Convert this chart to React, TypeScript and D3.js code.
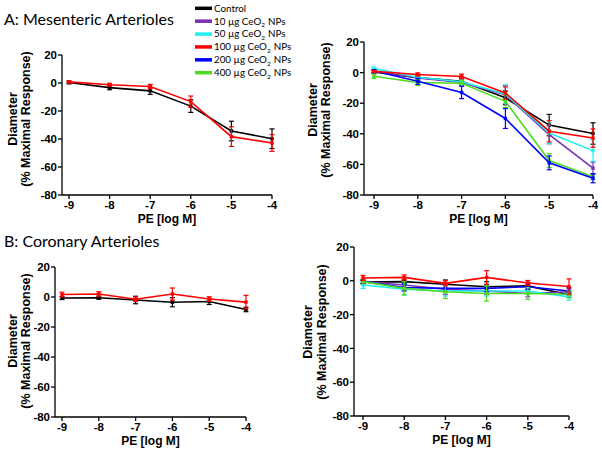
import React from 'react';
import * as d3 from 'd3';

// PE concentration, log M
const doses = [-9, -8, -7, -6, -5, -4];
const yTicks = [20, 0, -20, -40, -60, -80];

// A: mesenteric arterioles, mean diameter (% maximal response) and SEM
const mesControl = [0.4, -3.3, -5.6, -16.5, -34.3, -39.8];
const mesControlErr = [1, 1.5, 2.5, 4.5, 7, 7];
const mes10 = [1, -3.5, -6.5, -14.5, -40.5, -62.5];
const mes10Err = [1, 1.5, 2, 6, 6, 4];
const mes50 = [2.6, -3, -6, -14, -39.5, -51];
const mes50Err = [1, 1.5, 2, 6, 7, 7];
const mes100 = [0.8, -1.2, -2.5, -13.3, -38.3, -42.8];
const mes100Err = [0.5, 1, 1.5, 4, 7, 6];
const mes200 = [1, -5.7, -13, -30, -59, -69];
const mes200Err = [1, 2, 4, 6.5, 4.5, 3];
const mes400 = [-2.4, -6.5, -7, -18.8, -57.5, -68];
const mes400Err = [1.5, 2, 2, 4, 4.5, 2];

// B: coronary arterioles
const corControl = [-0.7, -0.5, -2, -3.5, -3, -8.3];
const corControlErr = [1, 1, 2.5, 3, 2, 1.5];
const cor10 = [-0.5, -2.5, -5, -6, -7.5, -6.5];
const cor10Err = [1, 2, 3, 2, 2, 2];
const cor50 = [-2.5, -5, -6, -6, -6, -9.5];
const cor50Err = [2, 3, 3, 3, 2, 2];
const cor100 = [1.7, 2, -1.5, 2, -1.3, -3.4];
const cor100Err = [1.5, 1.5, 1.5, 4, 1.5, 4.5];
const cor200 = [-0.5, -4, -4.5, -4.5, -3.5, -6];
const cor200Err = [1, 2, 2, 2, 1.5, 2];
const cor400 = [-0.5, -4.5, -6.5, -7.5, -7.5, -8];
const cor400Err = [1.5, 4, 4, 4.5, 3.5, 2];

const legendDoses = ['10', '50', '100', '200', '400'];
const colors = {
  control: '#000000',
  d10: '#7a2fb5',
  d50: '#22f0f0',
  d100: '#ff0000',
  d200: '#0000ff',
  d400: '#4cdc22',
};

type Series = { color: string; values: number[]; err: number[] };

type PanelProps = {
  axisX: number;
  x0: number;
  x1: number;
  yTop: number;
  yBot: number;
  label1X: number;
  label2X: number;
  labelY: number;
  series: Series[];
};

const tickFont = '"Liberation Sans", Arial, sans-serif';

function Panel({ axisX, x0, x1, yTop, yBot, label1X, label2X, labelY, series }: PanelProps) {
  const x = d3.scaleLinear().domain([-9, -4]).range([x0, x1]);
  const y = d3.scaleLinear().domain([20, -80]).range([yTop, yBot]);
  const line = d3
    .line<number>()
    .x((_, i) => x(doses[i]))
    .y((d) => y(d));
  const cap = 2.5;
  return (
    <g>
      {series.map((s, si) => (
        <g key={si} stroke={s.color} fill={s.color}>
          <path d={line(s.values) || ''} fill="none" strokeWidth={1.6} />
          {s.values.map((v, i) => {
            const cx = x(doses[i]);
            const hi = y(v + s.err[i]);
            const lo = y(v - s.err[i]);
            return (
              <g key={i} strokeWidth={1.2}>
                <line x1={cx} x2={cx} y1={hi} y2={lo} />
                <line x1={cx - cap} x2={cx + cap} y1={hi} y2={hi} />
                <line x1={cx - cap} x2={cx + cap} y1={lo} y2={lo} />
                <rect x={cx - 1.7} y={y(v) - 1.7} width={3.4} height={3.4} stroke="none" />
              </g>
            );
          })}
        </g>
      ))}
      <g stroke="#000" strokeWidth={1.3} fill="none">
        <line x1={axisX} x2={axisX} y1={yTop} y2={yBot} />
        <line x1={axisX} x2={x1} y1={yBot} y2={yBot} />
        {yTicks.map((t) => (
          <line key={t} x1={axisX - 4} x2={axisX} y1={y(t)} y2={y(t)} />
        ))}
        {doses.map((d) => (
          <line key={d} x1={x(d)} x2={x(d)} y1={yBot} y2={yBot + 4} />
        ))}
      </g>
      <g fontFamily={tickFont} fontWeight="bold" fontSize={11.5} fill="#000">
        {yTicks.map((t) => (
          <text key={t} x={axisX - 5} y={y(t)} dy="0.36em" textAnchor="end">
            {t}
          </text>
        ))}
        {doses.map((d) => (
          <text key={d} x={x(d)} y={yBot + 14} textAnchor="middle">
            {d}
          </text>
        ))}
        <text x={(axisX + x1) / 2} y={yBot + 28} textAnchor="middle" fontSize={12}>
          PE [log M]
        </text>
        <text transform={`translate(${label1X},${labelY}) rotate(-90)`} textAnchor="middle" fontSize={12.5}>
          Diameter
        </text>
        <text transform={`translate(${label2X},${labelY}) rotate(-90)`} textAnchor="middle" fontSize={12.5}>
          (% Maximal Response)
        </text>
      </g>
    </g>
  );
}

export default function App() {
  const mesLeft: Series[] = [
    { color: colors.control, values: mesControl, err: mesControlErr },
    { color: colors.d100, values: mes100, err: mes100Err },
  ];
  const mesRight: Series[] = [
    { color: colors.control, values: mesControl, err: mesControlErr },
    { color: colors.d10, values: mes10, err: mes10Err },
    { color: colors.d50, values: mes50, err: mes50Err },
    { color: colors.d400, values: mes400, err: mes400Err },
    { color: colors.d200, values: mes200, err: mes200Err },
    { color: colors.d100, values: mes100, err: mes100Err },
  ];
  const corLeft: Series[] = [
    { color: colors.control, values: corControl, err: corControlErr },
    { color: colors.d100, values: cor100, err: cor100Err },
  ];
  const corRight: Series[] = [
    { color: colors.control, values: corControl, err: corControlErr },
    { color: colors.d10, values: cor10, err: cor10Err },
    { color: colors.d50, values: cor50, err: cor50Err },
    { color: colors.d200, values: cor200, err: cor200Err },
    { color: colors.d400, values: cor400, err: cor400Err },
    { color: colors.d100, values: cor100, err: cor100Err },
  ];
  const legendColors = [colors.d10, colors.d50, colors.d100, colors.d200, colors.d400];
  const legendY = d3.scaleLinear().domain([0, 5]).range([8.3, 72.7]);

  return (
    <svg width={602} height={456} style={{ position: 'absolute', left: 0, top: 0, background: '#fff' }}>
      <rect width={602} height={456} fill="#fff" />
      <g fontFamily="Lato, 'Open Sans', sans-serif" fontSize={16} fill="#000">
        <text x={4} y={25}>A: Mesenteric Arterioles</text>
        <text x={4} y={247}>B: Coronary Arterioles</text>
      </g>

      {/* legend */}
      <g fontFamily="Lato, 'Open Sans', sans-serif" fontSize={9.8} fill="#000">
        <line x1={195} x2={212} y1={legendY(0)} y2={legendY(0)} stroke={colors.control} strokeWidth={3.5} />
        <text x={214} y={legendY(0)} dy="0.35em">Control</text>
        {legendDoses.map((d, i) => (
          <g key={d}>
            <line x1={195} x2={212} y1={legendY(i + 1)} y2={legendY(i + 1)} stroke={legendColors[i]} strokeWidth={3.5} />
            <text x={214} y={legendY(i + 1)} dy="0.35em">
              {d} µg CeO
              <tspan fontSize={6.5} dy="2.5">2</tspan>
              <tspan dy="-2.5" dx="3">NPs</tspan>
            </text>
          </g>
        ))}
      </g>

      <Panel axisX={62} x0={69} x1={272} yTop={55} yBot={195} label1X={17} label2X={30} labelY={119} series={mesLeft} />
      <Panel axisX={364} x0={374} x1={593} yTop={42} yBot={195} label1X={317} label2X={330} labelY={110} series={mesRight} />
      <Panel axisX={55} x0={62} x1={246} yTop={267} yBot={417} label1X={17} label2X={30} labelY={341} series={corLeft} />
      <Panel axisX={354} x0={363} x1={569} yTop={247} yBot={416} label1X={312} label2X={326} labelY={332} series={corRight} />
    </svg>
  );
}
